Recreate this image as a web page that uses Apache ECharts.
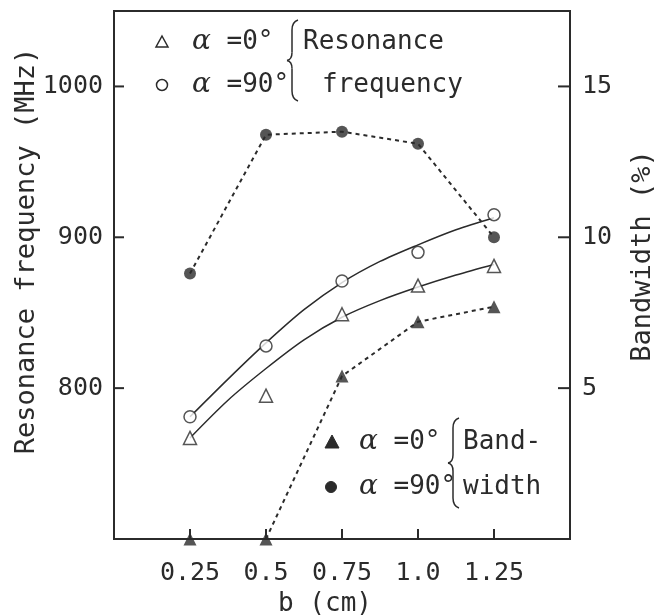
<!DOCTYPE html>
<html>
<head>
<meta charset="utf-8">
<script src="https://cdn.jsdelivr.net/npm/echarts@6/dist/echarts.min.js"></script>
<style>
html,body{margin:0;padding:0;background:#fff;}
#chart{width:658px;height:616px;}
</style>
</head>
<body>
<div id="chart"></div>
<script>
// ---- data ----
const bValues = [0.25, 0.5, 0.75, 1.0, 1.25];
const xTickLabels = ['0.25', '0.5', '0.75', '1.0', '1.25'];
const resFreq0 = [767, 795, 849, 868, 881];      // open triangles, alpha = 0 deg (MHz)
const resFreq90 = [781, 828, 871, 890, 915];     // open circles, alpha = 90 deg (MHz)
// solid fitted curves at these b positions
const fitB = [0.25, 0.375, 0.5, 0.625, 0.75, 0.875, 1.0, 1.125, 1.25];
const resFit0 = [767, 792, 813, 832, 847, 858, 867, 875, 882];
const resFit90 = [781, 806, 830, 852, 870, 884, 895, 905, 913];
const bandwidth0 = [0, 0, 5.4, 7.2, 7.7];        // filled triangles, alpha = 0 deg (%)
const bandwidth90 = [8.8, 13.4, 13.5, 13.1, 10.0]; // filled circles, alpha = 90 deg (%)
const freqTickLabels = [800, 900, 1000];
const bwTickLabels = [5, 10, 15];

const INK = '#2b2b2b';
const MONO = 'DejaVu Sans Mono';

const pairs = (xs, ys) => xs.map((x, i) => [x, ys[i]]);

const chart = echarts.init(document.getElementById('chart'), null, {renderer: 'canvas'});

const alphaRich = {a: {fontFamily: 'DejaVu Serif', fontStyle: 'italic', fontSize: 28, fill: INK}};

function legendText(x, y, txt) {
  return {type: 'text', x: x, y: y, z: 10,
    style: {text: txt, fill: INK, font: '26px ' + MONO, verticalAlign: 'middle', align: 'left', rich: alphaRich}};
}
function plainText(x, y, txt) {
  return {type: 'text', x: x, y: y, z: 10,
    style: {text: txt, fill: INK, font: '26px ' + MONO, verticalAlign: 'middle', align: 'left'}};
}
// left curly brace drawn from a few curve pieces
function brace(x, y0, y1) {
  const ym = (y0 + y1) / 2;
  const st = {stroke: INK, lineWidth: 1.5, fill: null};
  return [
    {type: 'bezierCurve', z: 10, shape: {x1: x + 6, y1: y0, cpx1: x, cpy1: y0 + 2, x2: x, y2: y0 + 10}, style: st},
    {type: 'line', z: 10, shape: {x1: x, y1: y0 + 10, x2: x, y2: ym - 8}, style: st},
    {type: 'bezierCurve', z: 10, shape: {x1: x, y1: ym - 8, cpx1: x, cpy1: ym - 1, x2: x - 5, y2: ym}, style: st},
    {type: 'bezierCurve', z: 10, shape: {x1: x - 5, y1: ym, cpx1: x, cpy1: ym + 1, x2: x, y2: ym + 8}, style: st},
    {type: 'line', z: 10, shape: {x1: x, y1: ym + 8, x2: x, y2: y1 - 10}, style: st},
    {type: 'bezierCurve', z: 10, shape: {x1: x, y1: y1 - 10, cpx1: x, cpy1: y1 - 2, x2: x + 6, y2: y1}, style: st}
  ];
}

const graphicItems = [
  // axis titles
  {type: 'text', x: 27, y: 251, rotation: Math.PI / 2, z: 10,
    style: {text: 'Resonance frequency (MHz)', fill: INK, font: '27px ' + MONO,
      align: 'center', verticalAlign: 'middle'}},
  {type: 'text', x: 643, y: 256, rotation: Math.PI / 2, z: 10,
    style: {text: 'Bandwidth (%)', fill: INK, font: '27px ' + MONO,
      align: 'center', verticalAlign: 'middle'}},
  // top legend: resonance frequency
  {type: 'polygon', x: 162, y: 42, z: 10, shape: {points: [[0, -6], [6, 5], [-6, 5]]},
    style: {fill: '#fff', stroke: INK, lineWidth: 1.5}},
  {type: 'circle', x: 162, y: 85, z: 10, shape: {cx: 0, cy: 0, r: 5.5},
    style: {fill: '#fff', stroke: INK, lineWidth: 1.5}},
  legendText(192, 42, '{a|α} =0°'),
  legendText(192, 85, '{a|α} =90°'),
  ...brace(292, 20, 101),
  plainText(303, 42, 'Resonance'),
  plainText(322, 85, 'frequency'),
  // bottom legend: bandwidth
  {type: 'polygon', x: 332, y: 442, z: 10, shape: {points: [[0, -7], [7, 6], [-7, 6]]},
    style: {fill: INK, stroke: INK, lineWidth: 1}},
  {type: 'circle', x: 331, y: 487, z: 10, shape: {cx: 0, cy: 0, r: 5.5},
    style: {fill: INK, stroke: INK, lineWidth: 1}},
  legendText(359, 442, '{a|α} =0°'),
  legendText(359, 487, '{a|α} =90°'),
  ...brace(453, 418, 508),
  plainText(463, 442, 'Band-'),
  plainText(463, 487, 'width')
];

const option = {
  backgroundColor: '#fff',
  animation: false,
  grid: {left: 114, top: 11, width: 456, height: 528, show: true,
    containLabel: false, outerBoundsMode: 'none',
    borderColor: INK, borderWidth: 2, backgroundColor: 'transparent'},
  xAxis: {
    type: 'value', min: 0, max: 1.5, interval: 0.25,
    axisLine: {show: true, onZero: false, lineStyle: {color: INK, width: 2}},
    axisTick: {show: false},
    splitLine: {show: false},
    axisLabel: {
      margin: 22, color: INK, fontFamily: MONO, fontSize: 25,
      formatter: v => {
        const i = bValues.findIndex(t => Math.abs(t - v) < 1e-9);
        return i >= 0 ? xTickLabels[i] : '';
      }
    },
    name: 'b (cm)', nameLocation: 'middle', nameGap: 51,
    nameTextStyle: {color: INK, fontFamily: MONO, fontSize: 26, padding: [0, 34, 0, 0]}
  },
  yAxis: [
    {
      type: 'value', min: 700, max: 1050, interval: 100, position: 'left',
      axisLine: {show: true, onZero: false, lineStyle: {color: INK, width: 2}},
      axisTick: {show: false},
      splitLine: {show: false},
      axisLabel: {margin: 11, color: INK, fontFamily: MONO, fontSize: 25,
        formatter: v => freqTickLabels.includes(v) ? String(v) : ''}
    },
    {
      type: 'value', min: 0, max: 17.5, interval: 5, position: 'right',
      axisLine: {show: true, onZero: false, lineStyle: {color: INK, width: 2}},
      axisTick: {show: false},
      splitLine: {show: false},
      axisLabel: {margin: 12, color: INK, fontFamily: MONO, fontSize: 25,
        formatter: v => bwTickLabels.includes(v) ? String(v) : ''}
    }
  ],
  series: [
    {type: 'line', yAxisIndex: 0, data: pairs(fitB, resFit90), smooth: 0.3,
      showSymbol: false, symbol: 'none', lineStyle: {color: INK, width: 1.5}, z: 2},
    {type: 'line', yAxisIndex: 0, data: pairs(fitB, resFit0), smooth: 0.3,
      showSymbol: false, symbol: 'none', lineStyle: {color: INK, width: 1.5}, z: 2},
    {type: 'line', yAxisIndex: 1, data: pairs(bValues.slice(1), bandwidth0.slice(1)),
      symbol: 'none', lineStyle: {color: INK, width: 2, type: [4, 4]}, z: 2},
    {type: 'line', yAxisIndex: 1, data: pairs(bValues, bandwidth90),
      symbol: 'none', lineStyle: {color: INK, width: 2, type: [4, 4]}, z: 2},
    {type: 'scatter', yAxisIndex: 0, data: pairs(bValues, resFreq0), symbol: 'triangle',
      symbolSize: 13, clip: false, itemStyle: {color: '#fff', borderColor: INK, borderWidth: 1.5}, z: 5},
    {type: 'scatter', yAxisIndex: 0, data: pairs(bValues, resFreq90), symbol: 'circle',
      symbolSize: 12, clip: false, itemStyle: {color: '#fff', borderColor: INK, borderWidth: 1.5}, z: 5},
    {type: 'scatter', yAxisIndex: 1, data: pairs(bValues, bandwidth0), symbol: 'triangle',
      symbolSize: 13, clip: false, itemStyle: {color: INK}, z: 5},
    {type: 'scatter', yAxisIndex: 1, data: pairs(bValues, bandwidth90), symbol: 'circle',
      symbolSize: 12, clip: false, itemStyle: {color: INK}, z: 5}
  ],
  graphic: graphicItems
};
chart.setOption(option);

// Inward tick marks, placed through the chart's own axis scales
const tickLines = [];
const tickLine = (x1, y1, x2, y2) => ({type: 'line', z: 1, silent: true,
  shape: {x1: x1, y1: y1, x2: x2, y2: y2}, style: {stroke: INK, lineWidth: 2}});
const toX = v => chart.convertToPixel({xAxisIndex: 0}, v);
const toYL = v => chart.convertToPixel({yAxisIndex: 0}, v);
const toYR = v => chart.convertToPixel({yAxisIndex: 1}, v);
const xLeft = toX(0), xRight = toX(1.5), yBottom = toYL(700);
bValues.forEach(v => { const x = toX(v); tickLines.push(tickLine(x, yBottom, x, yBottom - 10)); });
freqTickLabels.forEach(v => { const y = toYL(v); tickLines.push(tickLine(xLeft, y, xLeft + 10, y)); });
bwTickLabels.forEach(v => { const y = toYR(v); tickLines.push(tickLine(xRight - 12, y, xRight, y)); });
chart.setOption({graphic: graphicItems.concat(tickLines)});
</script>
</body>
</html>
